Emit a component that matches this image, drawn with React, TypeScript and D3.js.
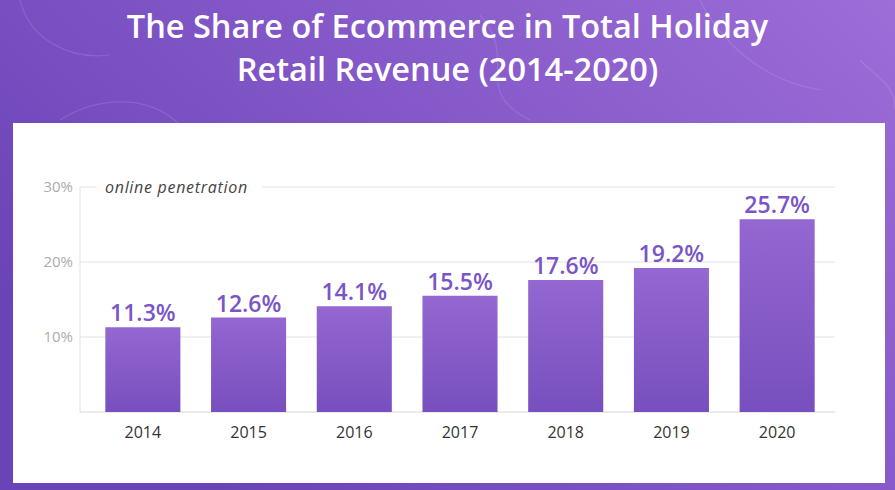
import * as React from "react";
import * as d3 from "d3";

const years = ["2014", "2015", "2016", "2017", "2018", "2019", "2020"];
const shares = [11.3, 12.6, 14.1, 15.5, 17.6, 19.2, 25.7];
const yTicks = [10, 20, 30];
const titleLines = ["The Share of Ecommerce in Total Holiday", "Retail Revenue (2014-2020)"];

const W = 895;
const H = 490;
const FONT = "'Open Sans', sans-serif";

export default function App() {
    const ref = React.useRef<SVGSVGElement>(null);

    React.useEffect(() => {
        const svg = d3.select(ref.current);
        svg.selectAll("*").remove();

        const defs = svg.append("defs");
        const bg = defs.append("linearGradient").attr("id", "bg")
            .attr("x1", 0).attr("y1", 0.6).attr("x2", 1).attr("y2", 0);
        bg.append("stop").attr("offset", "0%").attr("stop-color", "#6b43b8");
        bg.append("stop").attr("offset", "100%").attr("stop-color", "#9d6dd8");

        const barGrad = defs.append("linearGradient").attr("id", "bar")
            .attr("x1", 0).attr("y1", 0).attr("x2", 0).attr("y2", 1);
        barGrad.append("stop").attr("offset", "0%").attr("stop-color", "#9467d1");
        barGrad.append("stop").attr("offset", "100%").attr("stop-color", "#774fbe");

        svg.append("rect").attr("width", W).attr("height", H).attr("fill", "url(#bg)");

        // faint decorative curves in the background
        const deco = svg.append("g").attr("fill", "none")
            .attr("stroke", "#ffffff").attr("stroke-opacity", 0.12).attr("stroke-width", 1.2);
        deco.append("path").attr("d", "M20,0 C30,40 70,60 110,55");
        deco.append("path").attr("d", "M60,120 C100,95 150,95 180,125");
        deco.append("path").attr("d", "M480,15 C520,60 470,90 530,120");
        deco.append("path").attr("d", "M700,0 C720,40 760,80 820,90");
        deco.append("path").attr("d", "M860,60 C880,80 895,85 895,110");

        svg.append("g")
            .selectAll("text")
            .data(titleLines)
            .join("text")
            .attr("x", W / 2)
            .attr("y", (d, i) => 38 + i * 43)
            .attr("text-anchor", "middle")
            .attr("fill", "#ffffff")
            .attr("font-family", FONT)
            .attr("font-weight", 600)
            .attr("font-size", 32.5)
            .text(d => d);

        // white panel
        svg.append("rect")
            .attr("x", 13).attr("y", 123).attr("width", 872).attr("height", 360)
            .attr("fill", "#ffffff");

        const x = d3.scaleBand().domain(years).range([90, 830]).paddingInner(0.29).paddingOuter(0.145);
        const y = d3.scaleLinear().domain([0, 30]).range([412, 187]);

        const grid = svg.append("g");
        grid.selectAll("line")
            .data(yTicks)
            .join("line")
            .attr("x1", 80).attr("x2", 835)
            .attr("y1", d => y(d)).attr("y2", d => y(d))
            .attr("stroke", "#e2e2e2").attr("stroke-width", 1);
        grid.append("line")
            .attr("x1", 80).attr("x2", 80).attr("y1", y(30)).attr("y2", y(0))
            .attr("stroke", "#e2e2e2");
        grid.append("line")
            .attr("x1", 80).attr("x2", 835).attr("y1", y(0)).attr("y2", y(0))
            .attr("stroke", "#d6d6d6");

        svg.append("g")
            .selectAll("text")
            .data(yTicks)
            .join("text")
            .attr("x", 73).attr("y", d => y(d)).attr("dy", "0.35em")
            .attr("text-anchor", "end")
            .attr("fill", "#acacac")
            .attr("font-family", FONT)
            .attr("font-size", 15)
            .text(d => `${d}%`);

        // series label sitting on the 30% gridline
        const lbl = svg.append("g");
        lbl.append("rect").attr("x", 97).attr("y", y(30) - 10).attr("width", 165).attr("height", 20).attr("fill", "#ffffff");
        lbl.append("text")
            .attr("x", 105).attr("y", y(30)).attr("dy", "0.35em")
            .attr("fill", "#444")
            .attr("font-family", FONT)
            .attr("font-style", "italic")
            .attr("font-size", 16)
            .attr("letter-spacing", 0.7)
            .text("online penetration");

        const bars = svg.append("g");
        bars.selectAll("rect")
            .data(shares)
            .join("rect")
            .attr("x", (d, i) => x(years[i]))
            .attr("width", x.bandwidth())
            .attr("y", d => y(d))
            .attr("height", d => y(0) - y(d))
            .attr("fill", "url(#bar)");

        bars.selectAll("text")
            .data(shares)
            .join("text")
            .attr("x", (d, i) => x(years[i]) + x.bandwidth() / 2)
            .attr("y", d => y(d) - 6)
            .attr("text-anchor", "middle")
            .attr("fill", "#7a55c7")
            .attr("font-family", FONT)
            .attr("font-weight", 600)
            .attr("font-size", 23)
            .text(d => `${d.toFixed(1)}%`);

        svg.append("g")
            .selectAll("text")
            .data(years)
            .join("text")
            .attr("x", d => x(d) + x.bandwidth() / 2)
            .attr("y", 438)
            .attr("text-anchor", "middle")
            .attr("fill", "#333")
            .attr("font-family", FONT)
            .attr("font-size", 16)
            .text(d => d);
    }, []);

    return (
        <svg ref={ref} width={W} height={H}
             style={{position: "absolute", left: 0, top: 0, display: "block"}}/>
    );
}
